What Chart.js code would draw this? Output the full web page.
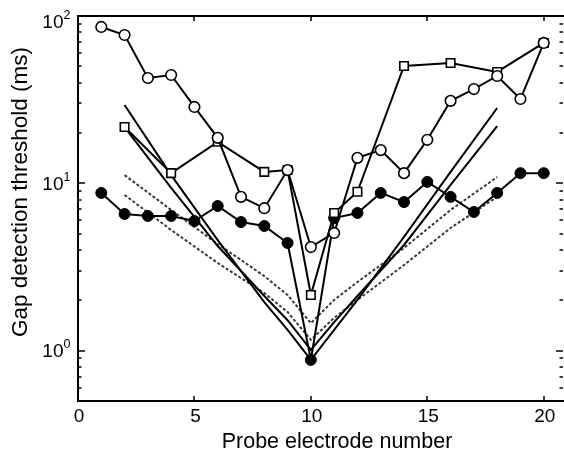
<!DOCTYPE html>
<html>
<head>
<meta charset="utf-8">
<script src="https://cdn.jsdelivr.net/npm/chart.js@4.4.0/dist/chart.umd.min.js"></script>
<style>
  html, body { margin: 0; padding: 0; background: #fff; overflow: hidden; }
  canvas { display: block; }
</style>
</head>
<body>
<canvas id="gapChart" width="564" height="453"></canvas>
<script>
// electrode numbers for the measured series
const electrodes = [1, 2, 3, 4, 5, 6, 7, 8, 9, 10, 11, 12, 13, 14, 15, 16, 17, 18, 19, 20];

// open circles (ms)
const openCircles = [86, 77, 42.6, 44.4, 28.6, 18.7, 8.3, 7.1, 12.0, 4.16,
                     5.05, 14.2, 15.8, 11.5, 18.2, 31.1, 36.6, 43.8, 31.9, 69];

// open squares, measured on even probes plus a few around 10
const squareElectrodes = [2, 4, 6, 8, 9, 10, 11, 12, 14, 16, 18, 20];
const openSquares = [21.7, 11.5, 17.7, 11.7, 12.0, 2.15, 6.65, 8.9, 50.3, 52.4, 46.3, 69];

// filled circles (ms)
const filledCircles = [8.76, 6.56, 6.38, 6.38, 5.95, 7.32, 5.87, 5.56, 4.40, 0.88,
                       6.2, 6.65, 8.76, 7.73, 10.2, 8.3, 6.74, 8.76, 11.5, 11.5];

// model predictions (V-shaped curves around probe 10)
const modelElectrodes = [2, 4, 6, 8, 9, 10, 11, 12, 14, 16, 18];
const modelSolidA = [29.4, 11.2, 4.58, 1.95, 1.33, 0.88, 1.33, 2.01, 4.78, 11.7, 28.2];
const modelSolidB = [21.7, 9.38, 4.22, 2.12, 1.52, 1.01, 1.48, 2.12, 4.28, 9.78, 22.0];
const modelDashC = [11.2, 6.93, 4.34, 2.79, 2.15, 1.46, 2.01, 2.57, 4.11, 6.93, 10.9];
const modelDashD = [8.52, 5.26, 3.34, 2.21, 1.70, 1.16, 1.57, 2.01, 3.25, 5.41, 8.3];

// axes
const xTickValues = [0, 5, 10, 15, 20];
const yTickValues = [1, 10, 100];
const yTickExponents = ["0", "1", "2"];
const xTitle = "Probe electrode number";
const yTitle = "Gap detection threshold (ms)";

const FONT = '"Liberation Sans", Arial, Helvetica, sans-serif';

function pts(xs, ys) {
  return xs.map((x, i) => ({ x: x, y: ys[i] }));
}

function modelLine(ys, dashed) {
  return {
    data: pts(modelElectrodes, ys),
    borderColor: dashed ? "#3a3a3a" : "#000",
    borderWidth: 2,
    borderDash: dashed ? [3, 2] : [],
    pointRadius: 0,
    tension: 0,
    fill: false
  };
}

// frame, inward ticks and all axis text
const framePlugin = {
  id: "frame",
  afterDraw(chart) {
    const ctx = chart.ctx;
    const xs = chart.scales.x;
    const ys = chart.scales.y;
    const { left, right, top, bottom } = chart.chartArea;

    ctx.save();
    ctx.strokeStyle = "#000";
    ctx.lineWidth = 2;
    ctx.beginPath();
    ctx.moveTo(left, top);
    ctx.lineTo(right, top);
    ctx.moveTo(left, top - 1);
    ctx.lineTo(left, bottom + 1);
    ctx.moveTo(left - 1, bottom);
    ctx.lineTo(right, bottom);
    ctx.stroke();

    // x ticks, bottom and top
    ctx.lineWidth = 1.5;
    ctx.beginPath();
    xTickValues.forEach(v => {
      if (v === 0) return;
      const px = Math.round(xs.getPixelForValue(v));
      ctx.moveTo(px, bottom);
      ctx.lineTo(px, bottom - 5);
      ctx.moveTo(px, top);
      ctx.lineTo(px, top + 5);
    });
    ctx.stroke();

    // y ticks, left and right
    ctx.beginPath();
    for (let dec = 0.1; dec <= 10; dec *= 10) {
      for (let m = 1; m <= 9; m++) {
        const v = dec * m;
        if (v < ys.min || v > ys.max) continue;
        const py = Math.round(ys.getPixelForValue(v));
        const len = m === 1 ? 7 : 3.5;
        ctx.moveTo(left, py);
        ctx.lineTo(left + len, py);
        ctx.moveTo(right - 1, py);
        ctx.lineTo(right - 1 - len, py);
      }
    }
    ctx.stroke();

    ctx.fillStyle = "#000";

    // x tick labels
    ctx.font = "19px " + FONT;
    ctx.textAlign = "center";
    ctx.textBaseline = "alphabetic";
    xTickValues.forEach(v => {
      ctx.fillText(String(v), xs.getPixelForValue(v) + 1, 422);
    });

    // y tick labels 10^n
    yTickValues.forEach((v, i) => {
      const py = Math.max(ys.getPixelForValue(v), 21);
      ctx.font = "19px " + FONT;
      ctx.textAlign = "right";
      ctx.fillText("10", 63.5, py + 6.8);
      ctx.font = "12.5px " + FONT;
      ctx.textAlign = "left";
      ctx.fillText(yTickExponents[i], 63.5, py - 2.5);
    });

    // axis titles
    ctx.font = "21.5px " + FONT;
    ctx.textAlign = "center";
    ctx.fillText(xTitle, 337, 448);

    ctx.save();
    ctx.translate(27, 192);
    ctx.rotate(-Math.PI / 2);
    ctx.font = "22.5px " + FONT;
    ctx.fillText(yTitle, 0, 0);
    ctx.restore();

    ctx.restore();
  }
};

new Chart(document.getElementById("gapChart"), {
  type: "line",
  data: {
    datasets: [
      {
        data: pts(electrodes, openCircles),
        borderColor: "#000",
        borderWidth: 2,
        pointStyle: "circle",
        pointRadius: 5.3,
        pointBorderWidth: 1.6,
        pointBackgroundColor: "#fff",
        pointBorderColor: "#000",
        tension: 0
      },
      {
        data: pts(squareElectrodes, openSquares),
        borderColor: "#000",
        borderWidth: 2,
        pointStyle: "rect",
        pointRadius: 6,
        pointBorderWidth: 1.6,
        pointBackgroundColor: "#fff",
        pointBorderColor: "#000",
        tension: 0
      },
      {
        data: pts(electrodes, filledCircles),
        borderColor: "#000",
        borderWidth: 2,
        pointStyle: "circle",
        pointRadius: 5.5,
        pointBorderWidth: 1,
        pointBackgroundColor: "#000",
        pointBorderColor: "#000",
        tension: 0
      },
      modelLine(modelSolidA, false),
      modelLine(modelSolidB, false),
      modelLine(modelDashC, true),
      modelLine(modelDashD, true)
    ]
  },
  options: {
    responsive: false,
    animation: false,
    devicePixelRatio: 1,
    layout: { autoPadding: false, padding: { top: 16, right: 0, left: 0, bottom: 0 } },
    plugins: {
      legend: { display: false },
      tooltip: { enabled: false }
    },
    scales: {
      x: {
        type: "linear",
        min: 0,
        max: 20.87,
        grid: { display: false },
        border: { display: false },
        ticks: { display: false },
        afterFit(scale) { scale.height = 52; }
      },
      y: {
        type: "logarithmic",
        min: 0.5,
        max: 100,
        grid: { display: false },
        border: { display: false },
        ticks: { display: false },
        afterFit(scale) { scale.width = 78; }
      }
    }
  },
  plugins: [framePlugin]
});
</script>
</body>
</html>
